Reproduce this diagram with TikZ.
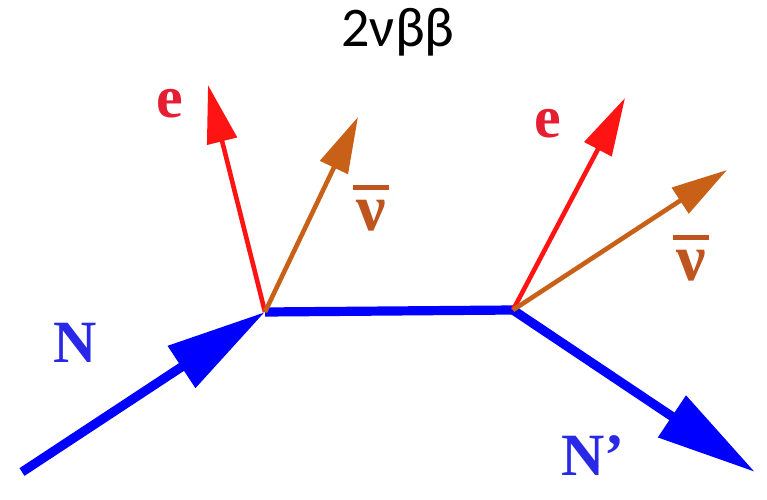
\documentclass[tikz,border=0pt]{standalone}
\usepackage{fontspec}
\setmainfont{Liberation Serif}
\newfontfamily\titlefont{Carlito}
\usetikzlibrary{arrows.meta}
\definecolor{nblue}{RGB}{0,0,255}
\definecolor{ered}{RGB}{255,20,20}
\definecolor{nubrown}{RGB}{200,96,24}
\definecolor{nlab}{RGB}{40,40,230}
\definecolor{elab}{RGB}{230,30,50}
\definecolor{vlab}{RGB}{190,85,30}
\newcommand{\nubarsym}{\leavevmode\vbox{\offinterlineskip\halign{\hfil##\hfil\cr\rule{0.55em}{0.09em}\cr\noalign{\kern0.14em}ν\cr}}}
\tikzset{
  nucleon/.style={draw=nblue, line width=4.6pt},
  nucarrow/.style={nucleon, -{Triangle[length=50pt,width=24pt]}, fill=nblue},
  elec/.style={draw=ered, line width=2.3pt, -{Triangle[length=29pt,width=15pt]}, fill=ered},
  antinu/.style={draw=nubrown, line width=2.3pt, -{Triangle[length=28pt,width=15pt]}, fill=nubrown},
  nlabel/.style={text=nlab, font=\fontsize{30}{30}\selectfont\bfseries, inner sep=0pt, anchor=base},
  elabel/.style={text=elab, font=\fontsize{30}{30}\selectfont\bfseries, inner sep=0pt, anchor=base},
  vlabel/.style={text=vlab, font=\fontsize{33}{33}\selectfont\bfseries, inner sep=0pt, anchor=base},
}
\begin{document}
\begin{tikzpicture}[x=0.5pt,y=-0.5pt]
\useasboundingbox (0,0) rectangle (767,499);
\fill[white] (0,0) rectangle (767,499);
% title
\node[font=\titlefont\fontsize{28}{28}\selectfont, anchor=base, inner sep=0pt] (title) at (398,46) {2νββ};
% vertices and ends
\coordinate (A) at (265,312);
\coordinate (B) at (513,310);
\coordinate (nin) at (22,472);
\coordinate (nout) at (755,472);
\coordinate (eL) at (208,85);
\coordinate (vL) at (358,117);
\coordinate (eR) at (625,98);
\coordinate (vR) at (727,170);
% nucleon lines
\draw[nucleon] (A) -- (B);
\draw[nucarrow] (nin) -- (A);
\draw[nucarrow] (B) -- (nout);
% leptons
\draw[elec] (A) -- (eL);
\draw[antinu] (A) -- (vL);
\draw[elec] (B) -- (eR);
\draw[antinu] (B) -- (vR);
% labels
\node[nlabel] (labN) at (75,362) {N};
\node[nlabel] (labNp) at (593,475) {N’};
\node[elabel] (labeL) at (170,117) {e};
\node[elabel] (labeR) at (548,137) {e};
\node[vlabel] (labvL) at (371,230) {\nubarsym};
\node[vlabel] (labvR) at (691,280) {\nubarsym};
\end{tikzpicture}
\end{document}
